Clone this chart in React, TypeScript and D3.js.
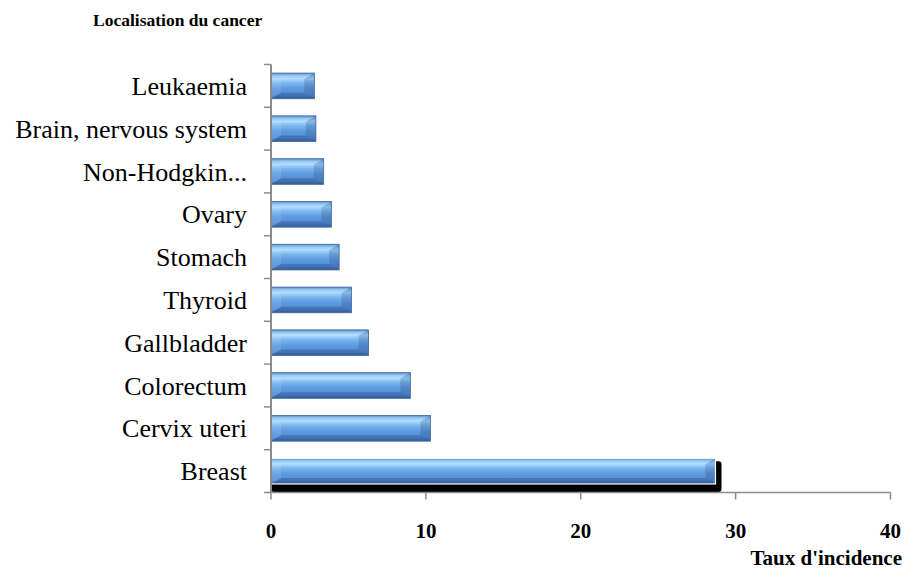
import React from "react";
import * as d3 from "d3";

// Incidence rate per cancer site (top to bottom as displayed)
const categories = [
  "Leukaemia",
  "Brain, nervous system",
  "Non-Hodgkin...",
  "Ovary",
  "Stomach",
  "Thyroid",
  "Gallbladder",
  "Colorectum",
  "Cervix uteri",
  "Breast",
];
const values = [2.8, 2.9, 3.4, 3.9, 4.4, 5.2, 6.3, 9.0, 10.3, 28.7];
const xTicks = [0, 10, 20, 30, 40];
const yTitle = "Localisation du cancer";
const xTitle = "Taux d'incidence";
const highlighted = "Breast";

const W = 907;
const H = 572;
const left = 271;
const right = 890.5;
const top = 64.5;
const bottom = 492.5;

const serif = "Liberation Serif, DejaVu Serif, serif";
const axisColor = "#8c8c8c";

export default function App() {
  const x = d3.scaleLinear().domain([0, 40]).range([left, right]);
  const y = d3
    .scaleBand<string>()
    .domain(categories)
    .range([top, bottom])
    .paddingInner(0.4)
    .paddingOuter(0.2);
  const step = y.step();
  const bw = y.bandwidth();
  const boundaries = d3.range(categories.length + 1).map((i) => top + i * step);

  const bevel = (x0: number, x1: number, y0: number, y1: number) => {
    const b = Math.min(10, (x1 - x0) / 3);
    const t = 6;
    return {
      top: [[x0, y0], [x1, y0], [x1 - b, y0 + t], [x0 + b, y0 + t]],
      bottom: [[x0, y1], [x1, y1], [x1 - b, y1 - t], [x0 + b, y1 - t]],
      left: [[x0, y0], [x0 + b, y0 + t], [x0 + b, y1 - t], [x0, y1]],
      right: [[x1, y0], [x1 - b, y0 + t], [x1 - b, y1 - t], [x1, y1]],
    };
  };
  const pts = (p: number[][]) => p.map((d) => d.join(",")).join(" ");
  const txt = (size: number, bold = false) => ({
    fontFamily: serif,
    fontSize: size,
    fontWeight: bold ? 700 : 400,
  });

  return (
    <svg
      width={W}
      height={H}
      viewBox={`0 0 ${W} ${H}`}
      style={{ position: "absolute", left: 0, top: 0, background: "#fff" }}
    >
      <defs>
        <linearGradient id="barFill" x1="0" y1="0" x2="0" y2="1">
          <stop offset="0" stopColor="#4a7bbd" />
          <stop offset="0.1" stopColor="#86c0f3" />
          <stop offset="0.22" stopColor="#acdcff" />
          <stop offset="0.38" stopColor="#7cb8ef" />
          <stop offset="0.6" stopColor="#5d9ae0" />
          <stop offset="0.85" stopColor="#538dd4" />
          <stop offset="1" stopColor="#3c6aa6" />
        </linearGradient>
      </defs>

      {/* bars */}
      {categories.map((c, i) => {
        const x0 = x(0);
        const x1 = x(values[i]);
        const y0 = y(c)!;
        const y1 = y0 + bw;
        const bv = bevel(x0, x1, y0, y1);
        const hl = c === highlighted;
        return (
          <g key={c}>
            {hl && (
              <rect
                x={x0}
                y={y0 + 3}
                width={x1 - x0 + 6}
                height={bw + 5}
                rx={3}
                fill="#000"
              />
            )}
            <rect x={x0} y={y0} width={x1 - x0} height={bw} fill="url(#barFill)" />
            <polygon points={pts(bv.top)} fill="#ffffff" opacity={0.12} />
            <polygon points={pts(bv.bottom)} fill="#1d3f70" opacity={0.3} />
            <polygon points={pts(bv.left)} fill="#ffffff" opacity={0.1} />
            <polygon points={pts(bv.right)} fill="#1d3f70" opacity={0.22} />
            <rect
              x={x0}
              y={y0}
              width={x1 - x0}
              height={bw}
              fill="none"
              stroke={hl ? "#ffffff" : "#3e6aa3"}
              strokeWidth={hl ? 1.2 : 0.8}
            />
          </g>
        );
      })}

      {/* y axis */}
      <line x1={left} x2={left} y1={top} y2={bottom} stroke={axisColor} strokeWidth={2} />
      {boundaries.map((b, i) => (
        <line key={i} x1={left - 7} x2={left} y1={b} y2={b} stroke={axisColor} strokeWidth={1.5} />
      ))}

      {/* x axis */}
      <line x1={left} x2={right} y1={bottom} y2={bottom} stroke={axisColor} strokeWidth={1.5} />
      {xTicks.map((t) => (
        <line key={t} x1={x(t)} x2={x(t)} y1={bottom} y2={bottom + 7} stroke={axisColor} strokeWidth={1.5} />
      ))}

      {/* category labels */}
      {categories.map((c) => (
        <text
          key={c}
          x={247}
          y={y(c)! + bw / 2 + 9}
          textAnchor="end"
          style={txt(26)}
          fill="#000"
        >
          {c}
        </text>
      ))}

      {/* tick labels */}
      {xTicks.map((t) => (
        <text key={t} x={x(t)} y={538} textAnchor="middle" style={txt(21, true)} fill="#000">
          {t}
        </text>
      ))}

      {/* axis titles */}
      <text x={93} y={26} style={txt(17.5, true)} fill="#000">
        {yTitle}
      </text>
      <text x={902} y={565} textAnchor="end" style={txt(21, true)} fill="#000">
        {xTitle}
      </text>
    </svg>
  );
}
